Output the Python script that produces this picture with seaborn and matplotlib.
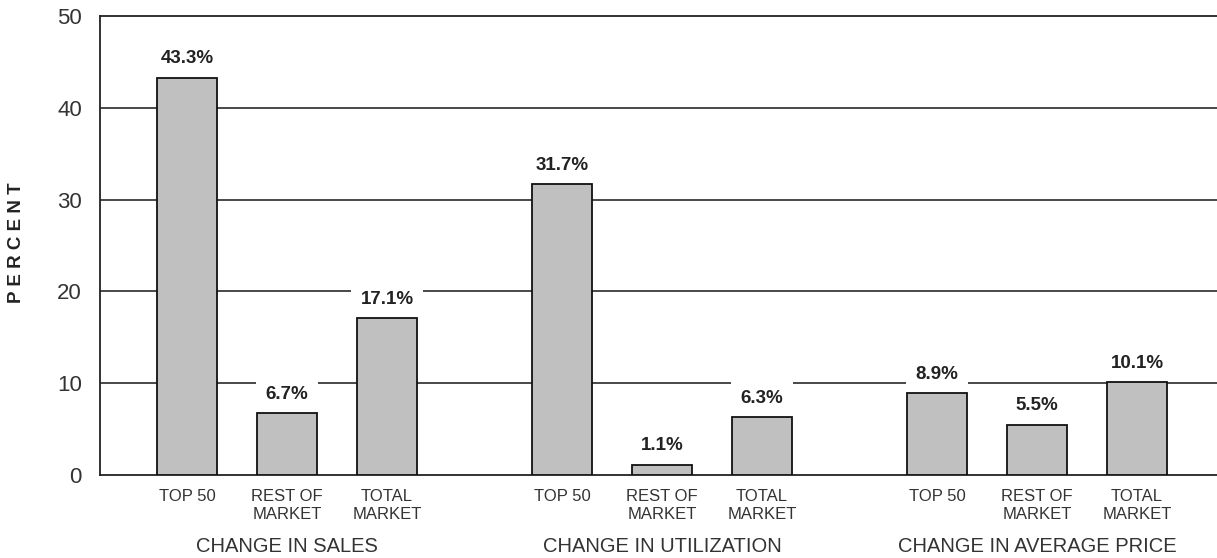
import matplotlib
matplotlib.use("Agg")
import matplotlib.pyplot as plt
import matplotlib.transforms as mtransforms
import seaborn as sns
import pandas as pd

# Chart data
groups = ["CHANGE IN SALES", "CHANGE IN UTILIZATION", "CHANGE IN AVERAGE PRICE"]
segments = ["TOP 50", "REST OF\nMARKET", "TOTAL\nMARKET"]
sales = [43.3, 6.7, 17.1]
utilization = [31.7, 1.1, 6.3]
avg_price = [8.9, 5.5, 10.1]
y_ticks = [0, 10, 20, 30, 40, 50]

sns.set_theme(style="white")
plt.rcParams["font.family"] = ["Liberation Sans", "DejaVu Sans"]

# Lay bars out in clusters of three with a wider gap between clusters
group_step = 3.75
rows = []
for g, (name, vals) in enumerate(zip(groups, [sales, utilization, avg_price])):
    for i, (seg, v) in enumerate(zip(segments, vals)):
        rows.append({"group": name, "segment": seg, "value": v,
                     "pos": g * group_step + i})
df = pd.DataFrame(rows)

fig = plt.figure(figsize=(12.17, 5.58), dpi=100)
W, H = 1217, 558
ax = fig.add_axes([100 / W, (H - 475) / H, 1117 / W, 459 / H])

sns.barplot(data=df, x="pos", y="value", native_scale=True, width=0.6,
            color="#c0c0c0", saturation=1, edgecolor="#111111",
            linewidth=1.3, ax=ax, zorder=3)

ax.set_xlim(-0.87, 10.3)
ax.set_ylim(0, 50)

# Horizontal rules behind the bars
for y in y_ticks[1:-1]:
    ax.axhline(y, color="#2a2a2a", lw=1.2, zorder=1)

ax.spines["right"].set_visible(False)
for side in ["left", "bottom", "top"]:
    ax.spines[side].set_color("#222222")
    ax.spines[side].set_linewidth(1.3)

ax.set_yticks(y_ticks)
ax.set_yticklabels([str(t) for t in y_ticks], fontsize=16, color="#333333")
ax.tick_params(axis="y", length=0, pad=13)

ax.set_xticks(df["pos"])
ax.set_xticklabels(df["segment"], fontsize=12, color="#333333",
                   linespacing=1.25)
ax.tick_params(axis="x", length=0, pad=10)

ax.set_xlabel("")
ax.set_ylabel("")
fig.text(17 / W, 1 - 243 / H, "P E R C E N T", rotation=90, ha="center",
         va="center", fontsize=13.5, fontweight="bold", color="#222222")

# Value labels above each bar
for _, r in df.iterrows():
    ax.annotate(f"{r['value']:.1f}%", xy=(r["pos"], r["value"]),
                xytext=(0, 7.5), textcoords="offset points",
                ha="center", va="bottom", fontsize=13.5, fontweight="bold",
                color="#222222", zorder=4,
                bbox=dict(boxstyle="square,pad=0.5", fc="white", ec="none"))

# Cluster captions beneath the segment labels
trans = mtransforms.blended_transform_factory(ax.transData, ax.transAxes)
for g, name in enumerate(groups):
    ax.text(g * group_step + 1, -0.135, name, transform=trans,
            ha="center", va="top", fontsize=14.5, color="#333333")

fig.savefig("out.png", dpi=100)
